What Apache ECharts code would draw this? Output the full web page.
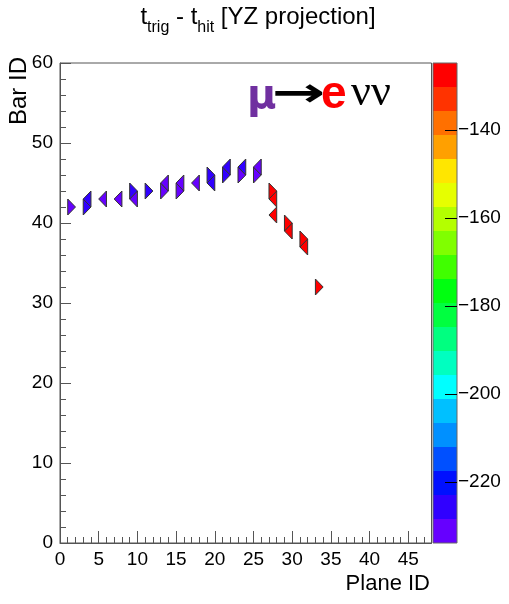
<!DOCTYPE html>
<html>
<head>
<meta charset="utf-8">
<script src="https://cdn.jsdelivr.net/npm/echarts@6/dist/echarts.min.js"></script>
<style>
  html, body { margin: 0; padding: 0; background: #ffffff; }
  #chart { width: 509px; height: 604px; }
</style>
</head>
<body>
<div id="chart"></div>
<script>
// Hit list: plane number, bar number, t_trig - t_hit
const planes = [1, 3, 3, 5, 7, 9, 9, 11, 13, 13, 15, 15, 17, 19, 19, 21, 21, 23, 23, 25, 25, 27, 27, 27, 29, 29, 31, 31, 33];
const bars   = [42, 42, 43, 43, 43, 43, 44, 44, 44, 45, 44, 45, 45, 45, 46, 46, 47, 46, 47, 46, 47, 41, 43, 44, 39, 40, 37, 38, 32];
const times  = [-231, -226, -225.5, -231.5, -232, -230, -226, -225, -231, -230, -232, -231, -232.5, -226, -225,
                -227, -225.5, -229.5, -227, -231, -230, -127, -126, -127.5, -128, -127, -129, -128, -126];

// Axis ticks
const xTickLabels = [0, 5, 10, 15, 20, 25, 30, 35, 40, 45];
const zTickLabels = [-220, -200, -180, -160, -140];

// Colour scale: range and the 20 contour colours, lowest first
const zMin = -233.9;
const zMax = -124.8;
const palette = ['#6600ff', '#3000ff', '#0010ff', '#0050ff', '#0090ff', '#00c0ff', '#00ffff', '#00ffc0',
                 '#00ff80', '#00ff40', '#00ff10', '#40ff00', '#80ff00', '#b4ff00', '#e6ff00', '#ffe600',
                 '#ffa000', '#ff7000', '#ff3300', '#ff0000'];

const nLevels = palette.length;
const step = (zMax - zMin) / nLevels;
const pieces = palette.map((c, i) => {
  const p = { gte: zMin + i * step, color: c };
  if (i < nLevels - 1) p.lt = zMin + (i + 1) * step; else p.lte = zMax + 1;
  return p;
});

const hits = planes.map((p, i) => [p, bars[i], times[i]]);
const levels = palette.map((c, i) => [i]);

const FONT = '"Liberation Sans", Arial, sans-serif';

// Triangular bars: even bars point towards +Z, odd bars towards -Z
function renderHit(params, api) {
  const p = api.value(0), b = api.value(1);
  const xl = api.coord([p, b])[0];
  const xr = api.coord([p + 1, b])[0];
  const yc = api.coord([p, b])[1];
  const yt = api.coord([p, b + 1])[1];
  const yb = api.coord([p, b - 1])[1];
  const pts = (b % 2 === 0)
    ? [[xl, yb], [xl, yt], [xr, yc]]
    : [[xr, yb], [xr, yt], [xl, yc]];
  return {
    type: 'polygon',
    shape: { points: pts },
    style: { fill: api.visual('color'), stroke: '#333', lineWidth: 1, lineJoin: 'miter' }
  };
}

function renderLevel(params, api) {
  const i = api.value(0);
  const lo = zMin + i * step, hi = zMin + (i + 1) * step;
  const a = api.coord([0, hi]);
  const b = api.coord([1, lo]);
  return {
    type: 'rect',
    shape: { x: a[0], y: a[1], width: b[0] - a[0], height: b[1] - a[1] },
    style: { fill: palette[i] }
  };
}

const chart = echarts.init(document.getElementById('chart'), null, { renderer: 'canvas' });

chart.setOption({
  animation: false,
  backgroundColor: '#ffffff',
  textStyle: { fontFamily: FONT },
  grid: [
    { left: 60, top: 63, width: 371.5, height: 480, show: true, borderColor: '#555', borderWidth: 1, backgroundColor: 'transparent' },
    { left: 433, top: 63, width: 24, height: 480, show: true, borderColor: '#666', borderWidth: 1, backgroundColor: 'transparent', z: 5 }
  ],
  xAxis: [
    {
      gridIndex: 0, type: 'value', min: 0, max: 48, interval: 5, position: 'bottom',
      axisLine: { show: true, onZero: false, lineStyle: { color: '#555', width: 1 } },
      axisTick: { show: true, inside: true, length: 12, customValues: xTickLabels, lineStyle: { color: '#555' } },
      axisLabel: { show: true, customValues: xTickLabels, margin: 7, fontSize: 19, color: '#000', fontFamily: FONT },
      splitLine: { show: false }
    },
    {
      gridIndex: 0, type: 'value', min: 0, max: 48, interval: 1, position: 'bottom',
      axisLine: { show: false, onZero: false },
      axisTick: { show: true, inside: true, length: 6, lineStyle: { color: '#555' } },
      axisLabel: { show: false },
      splitLine: { show: false }
    },
    {
      gridIndex: 1, type: 'value', min: 0, max: 1, show: false
    }
  ],
  yAxis: [
    {
      gridIndex: 0, type: 'value', min: 0, max: 60, interval: 10,
      axisLine: { show: true, onZero: false, lineStyle: { color: '#555', width: 1 } },
      axisTick: { show: true, inside: true, length: 11, lineStyle: { color: '#555' } },
      minorTick: { show: true, splitNumber: 5, length: 6, lineStyle: { color: '#555' } },
      axisLabel: { show: true, margin: 7, fontSize: 19, color: '#000', fontFamily: FONT },
      splitLine: { show: false }, minorSplitLine: { show: false }
    },
    {
      gridIndex: 1, type: 'value', min: zMin, max: zMax, position: 'right', z: 10,
      axisLine: { show: false, onZero: false },
      axisTick: { show: true, inside: true, length: 12, customValues: zTickLabels, lineStyle: { color: '#000' } },
      axisLabel: {
        show: true, inside: false, margin: 1, customValues: zTickLabels, fontSize: 19, color: '#000', fontFamily: FONT,
        formatter: v => (v < 0 ? '\u2212' : '') + Math.abs(Math.round(v))
      },
      splitLine: { show: false }
    }
  ],
  visualMap: {
    type: 'piecewise', show: false, dimension: 2, seriesIndex: 0, pieces: pieces
  },
  series: [
    {
      type: 'custom', xAxisIndex: 0, yAxisIndex: 0, data: hits, renderItem: renderHit,
      encode: { x: 0, y: 1 }, clip: true, z: 3
    },
    {
      type: 'custom', xAxisIndex: 2, yAxisIndex: 1, data: levels, renderItem: renderLevel,
      encode: { x: [], y: [] }, silent: true, z: 2
    }
  ],
  graphic: [
    {
      type: 'text', x: 258, y: 5,
      style: {
        text: '{m|t}{s|trig}{m| - t}{s|hit}{m| [YZ projection]}',
        align: 'center', fill: '#000',
        rich: {
          m: { fontSize: 24, fontFamily: FONT, lineHeight: 30, verticalAlign: 'top' },
          s: { fontSize: 16, fontFamily: FONT, lineHeight: 16, verticalAlign: 'top', padding: [15, 0, 0, 0] }
        }
      }
    },
    {
      type: 'text', x: 19, y: 57, rotation: Math.PI / 2,
      style: { text: 'Bar ID', align: 'right', verticalAlign: 'middle', fontSize: 24, fontFamily: FONT, fill: '#000' }
    },
    {
      type: 'text', x: 430, y: 584,
      style: { text: 'Plane ID', align: 'right', verticalAlign: 'middle', fontSize: 22, fontFamily: FONT, fill: '#000' }
    },
    {
      type: 'text', x: 247, y: 98,
      style: { text: '\u03bc', align: 'left', verticalAlign: 'middle', fontSize: 40, fontWeight: 'bold', fontFamily: '"DejaVu Sans", sans-serif', fill: '#7030a0' }
    },
    {
      type: 'text', x: 272, y: 96, scaleX: 1.6,
      style: { text: '\u2192', align: 'left', verticalAlign: 'middle', fontSize: 40, fontWeight: 'bold', fontFamily: '"DejaVu Sans", sans-serif', fill: '#000' }
    },
    {
      type: 'text', x: 321, y: 95,
      style: { text: 'e', align: 'left', verticalAlign: 'middle', fontSize: 46, fontWeight: 'bold', fontFamily: FONT, fill: '#ff0000' }
    },
    {
      type: 'text', x: 351, y: 93,
      style: { text: '\u03bd\u03bd', align: 'left', verticalAlign: 'middle', fontSize: 44, fontFamily: '"Liberation Serif", serif', fill: '#000' }
    }
  ]
});
</script>
</body>
</html>
